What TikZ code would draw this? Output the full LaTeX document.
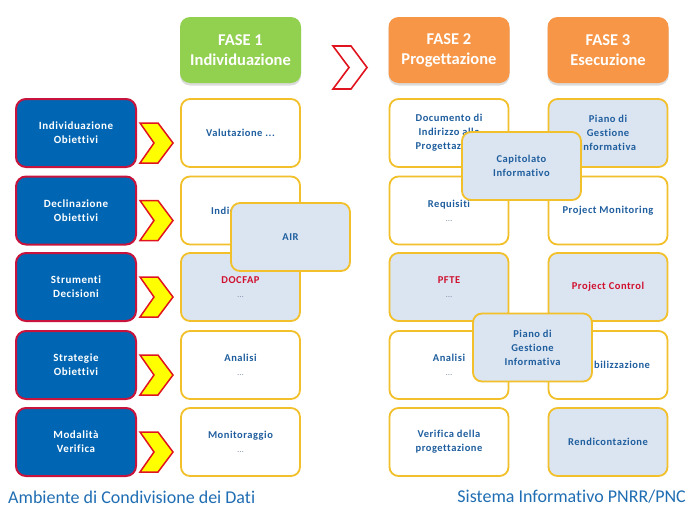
\documentclass[tikz,border=0pt]{standalone}
\usepackage{fontspec}
\setmainfont[Ligatures=NoCommon]{Carlito}
\newfontfamily\cellfont[LetterSpace=5,Ligatures=NoCommon]{Carlito}
\usetikzlibrary{shadows}
\definecolor{cellborder}{HTML}{F2C02A}
\definecolor{celltint}{HTML}{DBE5F1}
\definecolor{celltext}{HTML}{1F5E9E}
\definecolor{redtext}{HTML}{D0102E}
\definecolor{dotgray}{HTML}{8090A8}
\definecolor{objfill}{HTML}{0066B3}
\definecolor{objborder}{HTML}{C8143C}
\definecolor{greenhead}{HTML}{92D050}
\definecolor{orangehead}{HTML}{F79646}
\definecolor{chevred}{HTML}{E0141E}
\definecolor{chevyellow}{HTML}{FFFF00}
\definecolor{titleblue}{HTML}{1F6DB2}
\newcommand{\dotsline}{\textcolor{dotgray}{\fontsize{7}{10}\selectfont ...}}
\tikzset{
  cell/.style={draw=cellborder, line width=1.8pt, rounded corners=9pt, fill=white,
    minimum width=119pt, minimum height=68pt, align=center, inner sep=0pt,
    text=celltext, font=\cellfont\fontsize{10.5}{14}\selectfont\bfseries},
  tint/.style={cell, fill=celltint},
  objbox/.style={draw=objborder, line width=2pt, rounded corners=10pt, fill=objfill,
    minimum width=120pt, minimum height=68pt, align=center, inner sep=0pt,
    text=white, font=\cellfont\fontsize{11}{14}\selectfont\bfseries},
  headbox/.style={rounded corners=10pt, minimum width=121pt, minimum height=66pt,
    align=center, inner sep=0pt, text=white, font=\fontsize{16.5}{20}\selectfont\bfseries,
    drop shadow={shadow xshift=0pt, shadow yshift=-2.5pt, fill=gray!35, opacity=0.8}},
  chevy/.style={fill=chevyellow, draw=chevred, line width=1.5pt, line join=miter},
  chevo/.style={draw=chevred, line width=1.6pt, line join=miter},
  caption/.style={text=titleblue, font=\fontsize{18}{21}\selectfont, inner sep=0pt}
}
\begin{document}
\begin{tikzpicture}[x=1pt,y=-1pt]
\useasboundingbox (0,0) rectangle (700,525);
% headers
\node[headbox, fill=greenhead] (h1) at (240.5,50) {FASE 1\\Individuazione};
\node[headbox, fill=orangehead] (h2) at (449,50) {FASE 2\\Progettazione};
\node[headbox, fill=orangehead] (h3) at (608,50) {FASE 3\\Esecuzione};
% top chevron
\draw[chevo] (333,46) -- (351,46) -- (367,67.5) -- (351,89) -- (333,89) -- (349,67.5) -- cycle;
% objective boxes
\node[objbox] (o1) at (76,133) {Individuazione\\Obiettivi};
\node[objbox] (o2) at (76,210.5) {Declinazione\\Obiettivi};
\node[objbox] (o3) at (76,287) {Strumenti\\Decisioni};
\node[objbox] (o4) at (76,365) {Strategie\\Obiettivi};
\node[objbox] (o5) at (76,442) {Modalità\\Verifica};
% yellow chevrons
\foreach \yc in {133,210.5,287,365,442}{
  \draw[chevy] (140,\yc-10) -- (158,\yc-10) -- (173,\yc+10) -- (158,\yc+30) -- (140,\yc+30) -- (154,\yc+10) -- cycle;
}
% phase 1 column
\node[cell] (a1) at (240.5,133) {Valutazione ...};
\node[cell] (a2) at (240.5,210.5) {Indicatori ...};
\node[tint] (a3) at (240.5,287) {\textcolor{redtext}{DOCFAP}\\\dotsline};
\node[cell] (a4) at (240.5,365) {Analisi\\\dotsline};
\node[cell] (a5) at (240.5,442) {Monitoraggio\\\dotsline};
% phase 2 column
\node[cell] (b1) at (449,133) {Documento di\\Indirizzo alla\\Progettazione};
\node[cell] (b2) at (449,210.5) {Requisiti\\\dotsline};
\node[tint] (b3) at (449,287) {\textcolor{redtext}{PFTE}\\\dotsline};
\node[cell] (b4) at (449,365) {Analisi\\\dotsline};
\node[cell] (b5) at (449,442) {Verifica della\\progettazione};
% phase 3 column
\node[tint] (c1) at (608,133) {Piano di\\Gestione\\Informativa};
\node[cell] (c2) at (608,210.5) {Project Monitoring};
\node[tint] (c3) at (608,287) {\textcolor{redtext}{Project Control}};
\node[cell] (c4) at (608,365) {Contabilizzazione};
\node[tint] (c5) at (608,442) {Rendicontazione};
% overlays
\node[tint] (air) at (290.5,237) {AIR};
\node[tint] (cap) at (521.5,166) {Capitolato\\Informativo};
\node[tint] (pgi) at (532.5,347.5) {Piano di\\Gestione\\Informativa};
% captions
\node[caption, anchor=west] (acd) at (8,497) {Ambiente di Condivisione dei Dati};
\node[caption, anchor=east] (sip) at (686,497) {Sistema Informativo PNRR/PNC};
\end{tikzpicture}
\end{document}
